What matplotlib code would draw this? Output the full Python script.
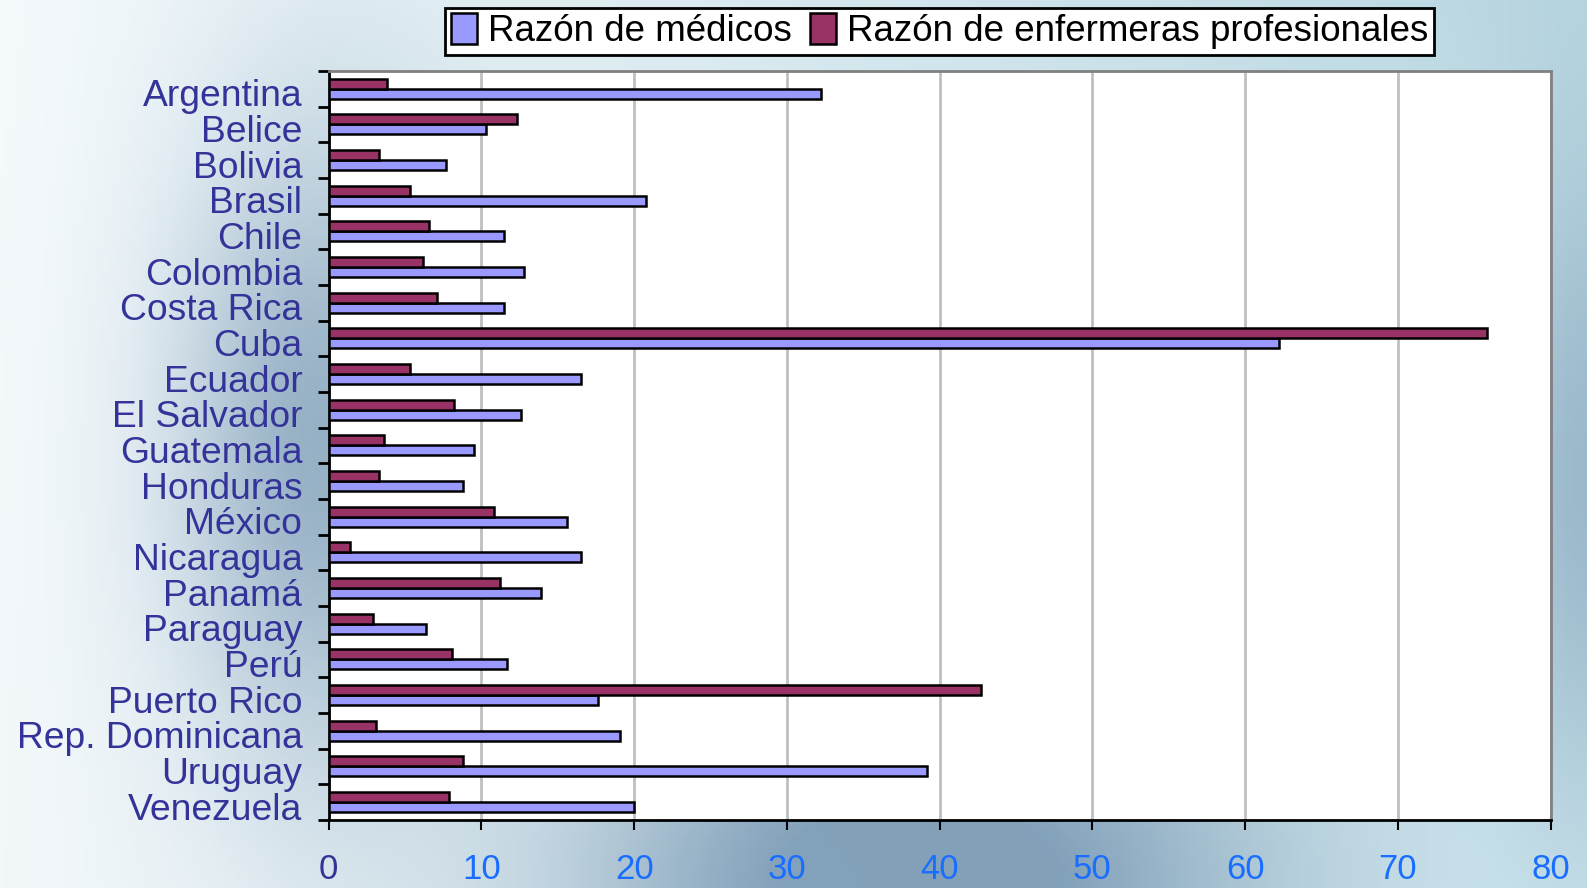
import numpy as np
import matplotlib
matplotlib.use('Agg')
import matplotlib.pyplot as plt
import matplotlib.transforms as mtransforms

plt.rcParams['font.family'] = ['Liberation Sans', 'DejaVu Sans']

# datos
paises = ['Argentina', 'Belice', 'Bolivia', 'Brasil', 'Chile', 'Colombia', 'Costa Rica',
          'Cuba', 'Ecuador', 'El Salvador', 'Guatemala', 'Honduras', 'México', 'Nicaragua',
          'Panamá', 'Paraguay', 'Perú', 'Puerto Rico', 'Rep. Dominicana', 'Uruguay', 'Venezuela']
medicos = [32.2, 10.3, 7.7, 20.8, 11.5, 12.8, 11.5, 62.2, 16.5, 12.6, 9.5, 8.8, 15.6, 16.5,
           13.9, 6.4, 11.7, 17.6, 19.1, 39.2, 20.0]
enfermeras = [3.8, 12.3, 3.3, 5.3, 6.6, 6.2, 7.1, 75.8, 5.3, 8.2, 3.6, 3.3, 10.8, 1.4,
              11.2, 2.9, 8.1, 42.7, 3.1, 8.8, 7.9]
xticks = [0, 10, 20, 30, 40, 50, 60, 70, 80]

fig = plt.figure(figsize=(15.87, 8.88), dpi=100)

# fondo degradado
bg = fig.add_axes([0, 0, 1, 1], zorder=-10)
H, W = 200, 360
yy, xx = np.mgrid[0:1:H * 1j, 0:1:W * 1j]
tl = np.array([0.96, 0.98, 0.99])
tr = np.array([0.72, 0.84, 0.88])
bl = np.array([0.95, 0.97, 0.98])
br = np.array([0.80, 0.90, 0.93])
img = ((1 - xx)[..., None] * (1 - yy)[..., None] * tl + xx[..., None] * (1 - yy)[..., None] * tr
       + (1 - xx)[..., None] * yy[..., None] * bl + xx[..., None] * yy[..., None] * br)
dark = np.array([0.45, 0.58, 0.69])
w1 = np.exp(-(((xx - 0.58) / 0.22) ** 2 + ((yy - 1.0) / 0.25) ** 2))
w2 = np.exp(-(((xx - 0.2) / 0.09) ** 2 + ((yy - 0.5) / 0.35) ** 2)) * 0.7
w3 = np.exp(-(((xx - 1.0) / 0.05) ** 2 + ((yy - 0.55) / 0.35) ** 2)) * 0.5
w = np.clip(w1 + w2 + w3, 0, 0.85)[..., None]
img = img * (1 - w) + dark * w
bg.imshow(img, aspect='auto', extent=[0, 1, 0, 1])
bg.axis('off')

ax = fig.add_axes([0.2071, 0.0766, 0.7700, 0.8435])
y = np.arange(len(paises))
h = 0.28
ax.barh(y + 0.14, medicos, height=h, color='#9999ff', edgecolor='black', linewidth=1.8,
        label='Razón de médicos', zorder=3)
ax.barh(y - 0.14, enfermeras, height=h, color='#993366', edgecolor='black', linewidth=1.8,
        label='Razón de enfermeras profesionales', zorder=3)

ax.set_xlim(0, 80)
ax.set_ylim(len(paises) - 0.5, -0.5)
ax.set_xticks(xticks)
ax.set_xticklabels([str(t) for t in xticks])
ax.grid(axis='x', color='#c0c0c0', linewidth=2, zorder=0)

ax.set_yticks(np.arange(len(paises) + 1) - 0.5)
ax.set_yticklabels([])
ax.set_yticks(y, minor=True)
ax.set_yticklabels(paises, minor=True, fontsize=26.8, color='#333399')
ax.tick_params(axis='y', which='minor', length=0, pad=19)
ax.tick_params(axis='y', which='major', length=8, width=2, direction='out')
ax.tick_params(axis='x', length=7, width=1.5, direction='out', pad=17, labelsize=25)
for i, lab in enumerate(ax.get_xticklabels()):
    lab.set_color('#333399' if i == 0 else '#1a6eff')

# etiquetas de país un poco más abajo, como en el original
shift = mtransforms.ScaledTranslation(0, -3 / 72, fig.dpi_scale_trans)
for lab in ax.get_yticklabels(minor=True):
    lab.set_transform(lab.get_transform() + shift)

ax.spines['left'].set_linewidth(2)
ax.spines['bottom'].set_linewidth(2)
ax.spines['top'].set_color('#808080')
ax.spines['right'].set_color('#808080')
ax.spines['top'].set_linewidth(2)
ax.spines['right'].set_linewidth(2)

leg = fig.legend(loc='center', bbox_to_anchor=(0.592, 0.965), ncol=2, frameon=True,
                 fancybox=False, edgecolor='black', framealpha=1,
                 prop={'size': 26.5},
                 handlelength=0.7, handleheight=0.9, handletextpad=0.3, columnspacing=0.5,
                 borderpad=0.15, borderaxespad=0)
leg.get_frame().set_linewidth(2)

fig.savefig('out.png', dpi=100)
